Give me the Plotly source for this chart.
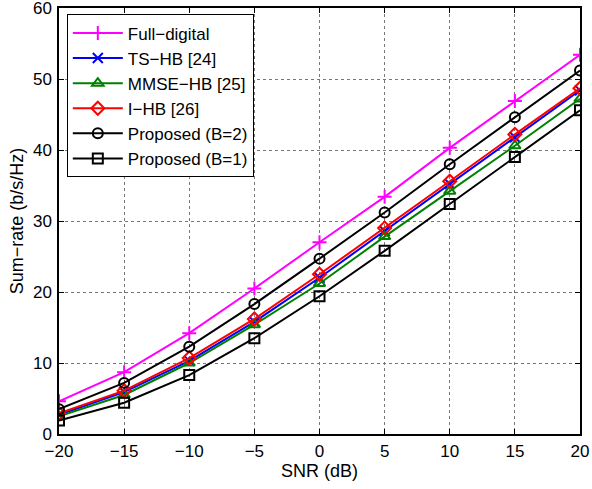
import plotly.graph_objects as go

snr = [-20, -15, -10, -5, 0, 5, 10, 15, 20]
full_digital = [4.6, 8.7, 14.2, 20.5, 27.0, 33.4, 40.3, 46.9, 53.4]
ts_hb = [2.7, 5.9, 10.3, 15.8, 22.0, 28.6, 35.2, 41.8, 48.4]
mmse_hb = [2.5, 5.5, 10.0, 15.4, 21.2, 27.8, 34.2, 40.6, 47.2]
i_hb = [2.9, 6.1, 10.7, 16.2, 22.5, 29.0, 35.6, 42.2, 48.7]
prop_b2 = [3.5, 7.2, 12.3, 18.3, 24.7, 31.2, 38.0, 44.6, 51.2]
prop_b1 = [1.9, 4.4, 8.3, 13.5, 19.4, 25.8, 32.4, 39.0, 45.6]

series = [
    ("Full\u2212digital", full_digital, "#ff00ff", "cross-thin"),
    ("TS\u2212HB [24]", ts_hb, "#0000ff", "x-thin"),
    ("MMSE\u2212HB [25]", mmse_hb, "#008000", "triangle-up-open"),
    ("I\u2212HB [26]", i_hb, "#ff0000", "diamond-open"),
    ("Proposed (B=2)", prop_b2, "#000000", "circle-open"),
    ("Proposed (B=1)", prop_b1, "#000000", "square-open"),
]

fig = go.Figure()
for name, y, c, sym in series:
    fig.add_trace(go.Scatter(
        x=snr, y=y, name=name, mode="lines+markers",
        line=dict(color=c, width=2),
        marker=dict(symbol=sym, size=10, color=c, line=dict(color=c, width=2)),
    ))

axis_common = dict(
    showgrid=True, gridcolor="#777777", griddash="dot", gridwidth=1,
    zeroline=False, showline=True, linecolor="black", linewidth=1.5, mirror="ticks",
    ticks="inside", ticklen=5, tickcolor="black", automargin=False,
    ticklabeloverflow="allow",
    tickfont=dict(family="Liberation Sans, Arial", size=17, color="black"),
)

fig.update_layout(
    width=592, height=489,
    margin=dict(l=59, r=12, t=8, b=55),
    paper_bgcolor="white", plot_bgcolor="white",
    font=dict(family="Liberation Sans, Arial", size=17, color="black"),
    xaxis=dict(range=[-20, 20], tickvals=snr, ticklabelstandoff=1,
               title=dict(text="SNR (dB)", standoff=2, font=dict(size=18)), **axis_common),
    yaxis=dict(range=[0, 60], dtick=10, ticklabelstandoff=2,
               title=dict(text="Sum\u2212rate (b/s/Hz)", standoff=5, font=dict(size=18)), **axis_common),
    legend=dict(x=0.015, y=0.985, xanchor="left", yanchor="top",
                bgcolor="white", bordercolor="black", borderwidth=1,
                font=dict(size=17), tracegroupgap=0, itemwidth=50),
    showlegend=True,
)

fig.write_html("out.html")
